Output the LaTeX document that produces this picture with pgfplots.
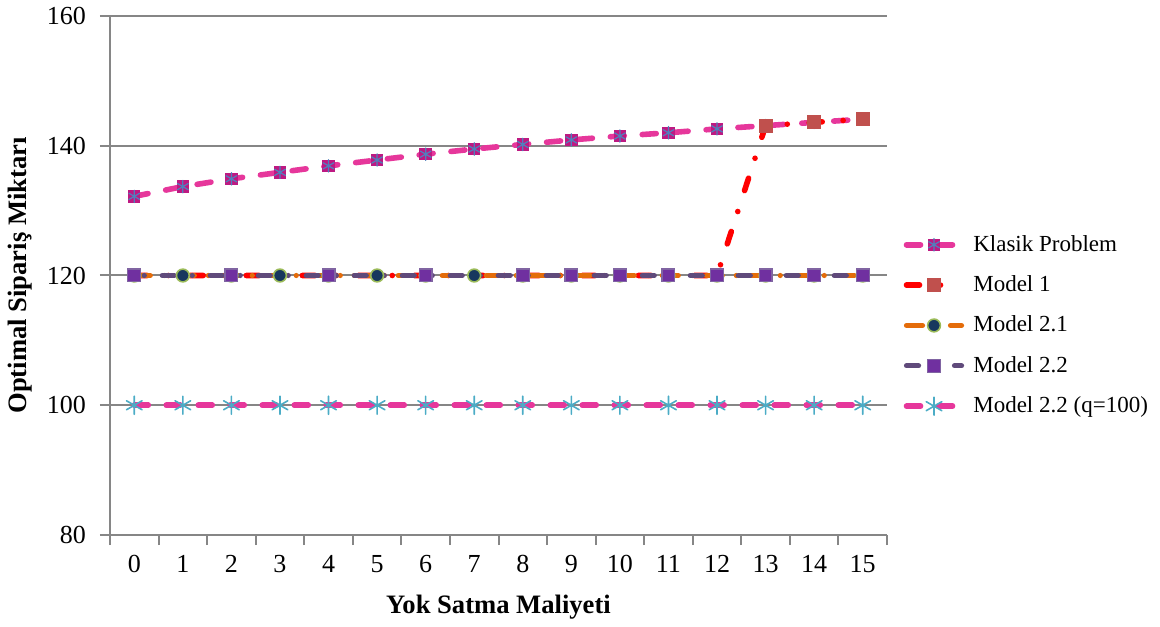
\documentclass[border=0pt]{standalone}
\usepackage{fontspec}
\setmainfont{Liberation Serif}
\usepackage{pgfplots}
\pgfplotsset{compat=1.18}
\definecolor{klpink}{RGB}{230,55,155}
\definecolor{klmag}{RGB}{190,25,130}
\definecolor{klblue}{RGB}{79,129,189}
\definecolor{mred}{RGB}{255,0,0}
\definecolor{mredmark}{RGB}{192,80,77}
\definecolor{morange}{RGB}{228,108,10}
\definecolor{mnavy}{RGB}{23,55,94}
\definecolor{mgreen}{RGB}{155,187,89}
\definecolor{mpurple}{RGB}{96,74,123}
\definecolor{mpurplemark}{RGB}{112,48,160}
\definecolor{mpurpleedge}{RGB}{128,100,162}
\definecolor{mcyan}{RGB}{75,172,198}
\definecolor{axgrey}{RGB}{134,134,134}
\pgfdeclareplotmark{sqast}{%
  \begin{pgfscope}%
  \pgfpathrectangle{\pgfpoint{-\pgfplotmarksize}{-\pgfplotmarksize}}{\pgfpoint{2\pgfplotmarksize}{2\pgfplotmarksize}}%
  \pgfsetfillcolor{klmag}\pgfusepathqfill
  \pgfsetstrokecolor{klblue}\pgfsetlinewidth{0.6pt}\pgfsetdash{}{0pt}%
  \pgfuseplotmark{asterisk}%
  \end{pgfscope}}
\pgfplotsset{
  legmid/.style={legend image code/.code={\draw[##1, mark indices={2}, dash phase=0pt] plot coordinates {(0pt,0pt) (13.75pt,0pt) (27.5pt,0pt)};}},
}
\begin{document}
\begin{tikzpicture}
\begin{axis}[
  scale only axis, width=388.5pt, height=259.5pt,
  at={(0,0)}, anchor=south west,
  xmin=-0.5, xmax=15.5, ymin=80, ymax=160,
  axis lines*=left,
  axis line style={draw=axgrey, line width=1pt, -},
  ytick={80,100,120,140,160},
  ymajorgrids, grid style={draw=axgrey, line width=1pt},
  xtick={-0.5,0.5,1.5,2.5,3.5,4.5,5.5,6.5,7.5,8.5,9.5,10.5,11.5,12.5,13.5,14.5,15.5},
  xticklabels={},
  extra x ticks={0,1,2,3,4,5,6,7,8,9,10,11,12,13,14,15},
  extra x tick labels={0,1,2,3,4,5,6,7,8,9,10,11,12,13,14,15},
  extra x tick style={major tick length=0pt, grid=none},
  tick align=outside, major tick length=5pt,
  tick style={draw=axgrey, line width=1pt},
  /pgf/number format/assume math mode=true,
  tick label style={font=\fontsize{13}{15}\selectfont},
  xticklabel style={yshift=-6.8pt},
  yticklabel style={xshift=-3.5pt},
  xlabel={Yok Satma Maliyeti},
  ylabel={Optimal Sipariş Miktarı},
  xlabel style={font=\fontsize{13.3}{15}\selectfont\bfseries, at={(axis description cs:0.5,-0.1387)}, anchor=center},
  ylabel style={font=\fontsize{13.3}{15}\selectfont\bfseries, at={(axis description cs:-0.1158,0.5)}, anchor=center, rotate=0},
  legend cell align=left,
  legend style={at={(1.0210,0.586)}, anchor=north west, draw=none, fill=none,
    font=\fontsize{11.5}{13}\selectfont, row sep=6.7pt, column sep=2.5pt, inner sep=0pt},
  legend image code/.code={\draw[mark repeat=2,mark phase=2,#1] plot coordinates {(0pt,0pt) (13.75pt,0pt) (27.5pt,0pt)};},
  clip=false,
]
\addplot[klpink, line width=2.8pt, line cap=round, dash pattern=on 7pt off 9pt,
  mark=sqast, mark size=3.1pt] coordinates {
 (0,132.2) (1,133.7) (2,134.9) (3,135.9) (4,136.9) (5,137.8) (6,138.7) (7,139.5)
 (8,140.2) (9,140.9) (10,141.5) (11,142.0) (12,142.6) (13,143.1) (14,143.6) (15,144.1)};
\addlegendentry{Klasik Problem}
\addplot[mred, line width=2.8pt, line cap=round, dash pattern=on 6.5pt off 10.5pt on 0pt off 11pt,
  mark=square*, mark size=3.3pt, mark options={solid, fill=mredmark, draw=mredmark, line width=0.5pt},
  mark indices={14,15,16}, legmid] coordinates {
 (0,120) (1,120) (2,120) (3,120) (4,120) (5,120) (6,120) (7,120)
 (8,120) (9,120) (10,120) (11,120) (12,120) (13,143.1) (14,143.6) (15,144.1)};
\addlegendentry{Model 1}
\addplot[morange, line width=2.6pt, line cap=round, dash pattern=on 8pt off 7pt on 0pt off 7pt,
  mark=*, mark size=3.2pt, mark options={solid, fill=mnavy, draw=mgreen, line width=0.8pt}] coordinates {
 (0,120) (1,120) (2,120) (3,120) (4,120) (5,120) (6,120) (7,120)
 (8,120) (9,120) (10,120) (11,120) (12,120) (13,120) (14,120) (15,120)};
\addlegendentry{Model 2.1}
\addplot[mpurple, line width=2.6pt, line cap=round, dash pattern=on 6pt off 9pt on 0pt off 9pt, dash phase=10pt,
  mark=square*, mark size=3.2pt, mark options={solid, fill=mpurplemark, draw=mpurpleedge, line width=0.6pt},
  mark indices={1,3,5,7,9,10,11,12,13,14,15,16}, legmid] coordinates {
 (0,120) (1,120) (2,120) (3,120) (4,120) (5,120) (6,120) (7,120)
 (8,120) (9,120) (10,120) (11,120) (12,120) (13,120) (14,120) (15,120)};
\addlegendentry{Model 2.2}
\addplot[klpink, line width=2.8pt, line cap=round, dash pattern=on 7pt off 9pt,
  mark=asterisk, mark size=4.5pt, mark options={solid, draw=mcyan, line width=0.8pt}] coordinates {
 (0,100) (1,100) (2,100) (3,100) (4,100) (5,100) (6,100) (7,100)
 (8,100) (9,100) (10,100) (11,100) (12,100) (13,100) (14,100) (15,100)};
\addlegendentry{Model 2.2 (q=100)}
\end{axis}
\pgfresetboundingbox
\path (-55pt,-45.5pt) rectangle (525pt,267.5pt);
\end{tikzpicture}
\end{document}
